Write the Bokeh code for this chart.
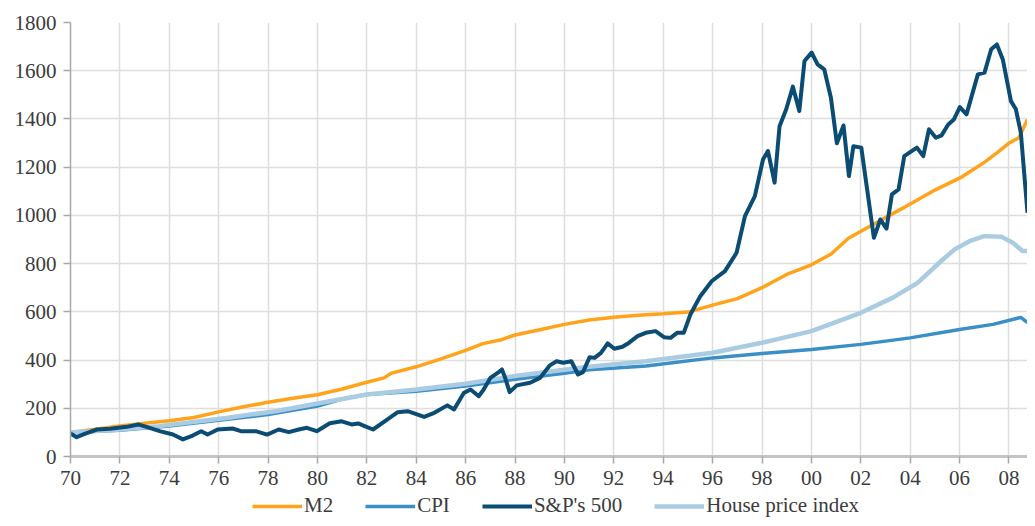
from bokeh.plotting import figure
from bokeh.models import Range1d, FixedTicker, Legend, LegendItem
from bokeh.layouts import column
from bokeh.embed import file_html
from bokeh.resources import INLINE

# ---------------- data ----------------
m2_years = [1970.0, 1971.0, 1972.0, 1973.0, 1974.0, 1975.0, 1976.0, 1977.0, 1978.0, 1979.0,
            1980.0, 1981.0, 1982.0, 1982.7, 1983.0, 1984.0, 1985.0, 1986.0, 1986.7, 1987.4,
            1988.0, 1989.0, 1990.0, 1991.0, 1992.0, 1993.0, 1994.0, 1995.0, 1996.0, 1997.0,
            1998.0, 1999.0, 2000.0, 2000.8, 2001.5, 2002.5, 2003.7, 2005.0, 2006.1, 2007.0,
            2007.5, 2008.0, 2008.4, 2008.75]
m2_values = [100, 113, 127, 138, 148, 162, 185, 206, 225, 242,
             256, 280, 308, 326, 346, 372, 405, 440, 468, 483,
             504, 526, 548, 566, 578, 586, 592, 599, 628, 655,
             700, 755, 795, 840, 905, 962, 1030, 1105, 1160, 1220,
             1258, 1300, 1322, 1398]

cpi_years = [1970.0, 1972.0, 1974.0, 1976.0, 1978.0, 1980.0, 1981.0, 1982.0, 1984.0, 1986.0,
             1988.0, 1990.0, 1991.0, 1993.3, 1996.0, 1998.0, 2000.0, 2002.0, 2004.0, 2006.0,
             2007.35, 2008.48, 2008.75]
cpi_values = [100, 109, 126, 150, 174, 209, 238, 257, 271, 292,
              320, 345, 360, 375, 409, 427, 444, 465, 492, 527,
              548, 577, 555]

sp_years = [1970.0, 1970.25, 1970.6, 1971.07, 1971.6, 1972.28, 1972.74, 1973.08, 1973.61, 1974.15,
            1974.55, 1974.95, 1975.29, 1975.55, 1975.96, 1976.56, 1976.9, 1977.5, 1977.96, 1978.43,
            1978.84, 1979.24, 1979.57, 1979.97, 1980.5, 1980.98, 1981.38, 1981.65, 1981.91, 1982.25,
            1982.72, 1983.25, 1983.65, 1984.32, 1984.73, 1985.26, 1985.53, 1985.93, 1986.2, 1986.53,
            1986.73, 1987.0, 1987.34, 1987.47, 1987.6, 1987.78, 1988.07, 1988.61, 1989.01, 1989.41,
            1989.68, 1989.95, 1990.28, 1990.55, 1990.75, 1991.02, 1991.22, 1991.48, 1991.75, 1992.02,
            1992.35, 1992.62, 1992.96, 1993.29, 1993.69, 1994.03, 1994.3, 1994.56, 1994.83, 1995.1,
            1995.5, 1995.97, 1996.5, 1996.97, 1997.31, 1997.71, 1998.04, 1998.24, 1998.51, 1998.71,
            1998.98, 1999.25, 1999.51, 1999.72, 2000.01, 2000.25, 2000.52, 2000.79, 2001.03, 2001.3,
            2001.52, 2001.7, 2002.02, 2002.53, 2002.79, 2003.04, 2003.26, 2003.53, 2003.76, 2004.27,
            2004.53, 2004.76, 2005.04, 2005.27, 2005.54, 2005.77, 2006.01, 2006.28, 2006.74, 2007.01,
            2007.28, 2007.51, 2007.75, 2008.08, 2008.28, 2008.48, 2008.75]
sp_values = [95, 80, 95, 112, 115, 123, 133, 123, 105, 91,
             71, 87, 105, 91, 112, 116, 105, 105, 91, 112,
             101, 112, 119, 105, 138, 146, 133, 137, 126, 112,
             146, 184, 188, 164, 181, 212, 195, 264, 278, 250,
             278, 326, 350, 361, 326, 267, 295, 306, 326, 378,
             395, 389, 395, 340, 350, 412, 409, 430, 469, 447,
             455, 472, 499, 513, 520, 495, 492, 513, 513, 589,
             665, 728, 769, 845, 997, 1080, 1232, 1267, 1136, 1370,
             1440, 1534, 1433, 1640, 1675, 1626, 1606, 1488, 1299, 1373,
             1163, 1287, 1281, 907, 983, 945, 1087, 1108, 1246, 1281,
             1246, 1357, 1322, 1332, 1377, 1398, 1449, 1419, 1585, 1592,
             1689, 1709, 1647, 1474, 1440, 1343, 1011]

house_years = [1970.0, 1972.0, 1973.6, 1976.3, 1978.3, 1980.0, 1982.0, 1984.0, 1986.0, 1988.0,
               1990.0, 1991.0, 1993.3, 1996.0, 1998.0, 2000.0, 2002.0, 2003.3, 2004.3, 2005.3,
               2005.8, 2006.4, 2007.0, 2007.7, 2008.15, 2008.55, 2008.75]
house_values = [100, 112, 126, 160, 188, 220, 257, 278, 302, 334,
                360, 372, 395, 430, 472, 520, 596, 659, 720, 815,
                859, 893, 914, 911, 887, 852, 852]

x_ticks = list(range(1970, 2009, 2))
x_tick_labels = ["70", "72", "74", "76", "78", "80", "82", "84", "86", "88",
                 "90", "92", "94", "96", "98", "00", "02", "04", "06", "08"]
y_ticks = [0, 200, 400, 600, 800, 1000, 1200, 1400, 1600, 1800]

series_names = ["M2", "CPI", "S&P's 500", "House price index"]
series_colors = ["#FFA31A", "#3B8FC7", "#0B4C75", "#AACCE3"]
series_widths = [3.5, 3.5, 4, 4.5]
series_data = [(m2_years, m2_values), (cpi_years, cpi_values),
               (sp_years, sp_values), (house_years, house_values)]

# ---------------- main figure ----------------
FONT = "Liberation Serif"
W = 1027
p = figure(width=W, height=494, output_backend="svg", toolbar_location=None,
           x_range=Range1d(1970, 2008.75), y_range=Range1d(0, 1800),
           min_border_left=70, min_border_right=0, min_border_top=22, min_border_bottom=38)
p.outline_line_color = None
p.background_fill_color = "white"
p.border_fill_color = "white"

p.line(m2_years, m2_values, line_color=series_colors[0], line_width=series_widths[0])
p.line(cpi_years, cpi_values, line_color=series_colors[1], line_width=series_widths[1])
p.line(house_years, house_values, line_color=series_colors[3], line_width=series_widths[3])
p.line(sp_years, sp_values, line_color=series_colors[2], line_width=series_widths[2],
       line_join="round")

p.xaxis.ticker = FixedTicker(ticks=x_ticks)
p.xaxis.major_label_overrides = {t: lab for t, lab in zip(x_ticks, x_tick_labels)}
p.yaxis.ticker = FixedTicker(ticks=y_ticks)
p.xgrid.ticker = FixedTicker(ticks=x_ticks)
p.ygrid.ticker = FixedTicker(ticks=y_ticks)

for ax in (p.xaxis[0], p.yaxis[0]):
    ax.major_label_text_font = FONT
    ax.major_label_text_font_size = "21px"
    ax.major_label_text_color = "#3c3c3c"
    ax.minor_tick_line_color = None
    ax.major_tick_in = 0
    ax.major_tick_out = 7
    ax.major_tick_line_color = "#a8a8a8"
    ax.major_tick_line_width = 1.5

p.xaxis.axis_line_color = "#c4c4c4"
p.xaxis.axis_line_width = 3
p.xaxis.major_label_standoff = 7
p.yaxis.axis_line_color = "#a8a8a8"
p.yaxis.axis_line_width = 1.5
p.yaxis.major_label_standoff = 7

p.grid.grid_line_color = "#dedede"
p.grid.grid_line_width = 1.5

# ---------------- legend strip ----------------
# the series are drawn here too, but fall outside this strip's ranges,
# so only their legend swatches show
lf = figure(width=W, height=24, output_backend="svg", toolbar_location=None,
            x_range=Range1d(0, 1), y_range=Range1d(0, 1),
            x_axis_location=None, y_axis_location=None,
            min_border_left=0, min_border_right=0, min_border_top=0, min_border_bottom=0)
lf.outline_line_color = None
lf.grid.visible = False
lf.border_fill_color = "white"
lf.background_fill_color = "white"

items = []
for name, col, lw, (xs, ys) in zip(series_names, series_colors, series_widths, series_data):
    r = lf.line(xs, ys, line_color=col, line_width=lw)
    items.append(LegendItem(label=name, renderers=[r]))

legend = Legend(items=items, orientation="horizontal", location=(182, 0))
legend.label_text_font = FONT
legend.label_text_font_size = "21px"
legend.label_text_color = "#3c3c3c"
legend.glyph_width = 50
legend.glyph_height = 20
legend.label_standoff = 2
legend.spacing = 32
legend.padding = 0
legend.margin = 0
legend.border_line_color = None
legend.background_fill_alpha = 0
lf.add_layout(legend, "center")

page = column(p, lf, spacing=0)
open("out.html", "w").write(file_html(page, INLINE))
